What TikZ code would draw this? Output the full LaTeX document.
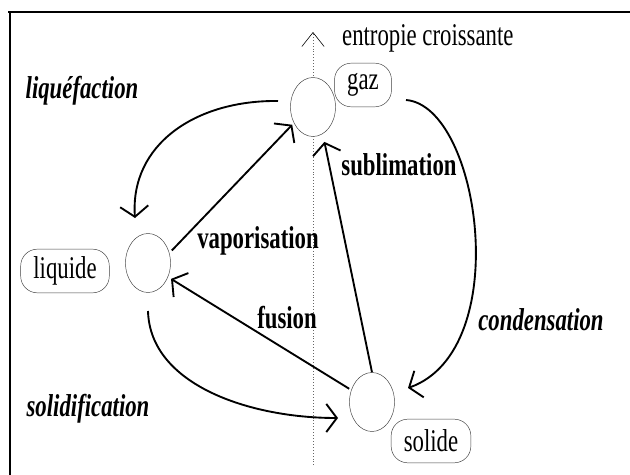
\documentclass[tikz,border=0pt]{standalone}
\usepackage{fontspec}
\setmainfont{Liberation Serif}[FakeStretch=0.72]
\usepackage{tikz}
\usetikzlibrary{shapes.geometric}
\usetikzlibrary{arrows.meta}

\begin{document}
\begin{tikzpicture}[x=0.03cm, y=-0.03cm,
		phase/.style={shape=ellipse, draw=black!75, line width=0.4pt, fill=white, minimum width=1.35cm, minimum height=1.77cm, inner sep=0pt},
		tag/.style={draw=black!75, line width=0.4pt, rounded corners=0.5cm, minimum height=1.31cm, inner xsep=0.38cm, inner ysep=0pt, font=\fontsize{27}{32}\selectfont},
		trans/.style={line width=1.6pt, -{Straight Barb[length=9pt,width=24pt]}},
		lbl/.style={anchor=base, font=\fontsize{27}{32}\selectfont\bfseries},
		ilbl/.style={anchor=base, font=\fontsize{27}{32}\selectfont\bfseries\itshape}]
			\useasboundingbox (0, 0) rectangle (630, 475);
			% Frame:
			\draw[line width=2.5pt] (8, 12) -- (630, 12);
			\draw[line width=1.8pt] (10, 12) -- (10, 475);
			% Entropy axis:
			\coordinate (axB) at (313, 465);
			\coordinate (axT) at (313, 32);
			\draw[dotted, black!60, line width=0.5pt, -{Straight Barb[length=12pt,width=19pt,black]}] (axB) -- (axT);
			\node[anchor=base west, font=\fontsize{27}{32}\selectfont] (entr) at (338, 45){entropie croissante};
			% Phases:
			\node[phase] (G) at (313, 107){};
			\node[phase] (L) at (148, 263){};
			\node[phase] (S) at (372, 402){};
			\node[tag] (Tg) at (363, 85){gaz};
			\node[tag] (Tl) at (65, 271){liquide};
			\node[tag] (Ts) at (431, 441){solide};
			% Transitions:
			\draw[trans, shorten <=3pt, shorten >=2pt] (L.25) -- (G.220);
			\draw[trans, shorten >=7pt] (S.north) -- (G.290);
			\draw[trans, shorten <=2pt, shorten >=3pt] (S.150) -- (L.325);
			\coordinate (liqA) at (278, 101);
			\coordinate (liqB) at (135, 218);
			\draw[trans] (liqA) .. controls (195, 100) and (130, 145) .. (liqB);
			\coordinate (conA) at (406, 100);
			\coordinate (conB) at (408, 388);
			\draw[trans] (conA) .. controls (480, 106) and (515, 350) .. (conB);
			\coordinate (solA) at (148, 311);
			\coordinate (solB) at (338, 418);
			\draw[trans] (solA) .. controls (150, 385) and (250, 418) .. (solB);
			% Labels:
			\node[ilbl] (N1) at (82, 98){liquéfaction};
			\node[lbl] (N2) at (258, 248){vaporisation};
			\node[lbl] (N3) at (399, 175){sublimation};
			\node[lbl] (N4) at (287, 328){fusion};
			\node[ilbl] (N5) at (541, 330){condensation};
			\node[ilbl] (N6) at (88, 416){solidification};
		\end{tikzpicture}
\end{document}
